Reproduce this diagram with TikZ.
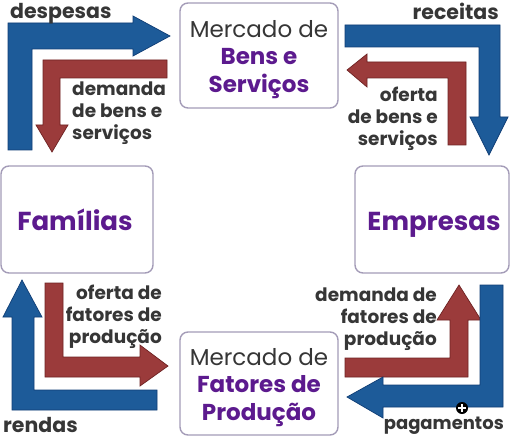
\documentclass[tikz,border=0pt]{standalone}
\usepackage{fontspec}
\setmainfont{Poppins}
\definecolor{bluef}{HTML}{1D5B99}
\definecolor{bluel}{HTML}{0F3D75}
\definecolor{redf}{HTML}{9B3B3B}
\definecolor{redl}{HTML}{6E2222}
\definecolor{purp}{HTML}{5C1A8E}
\definecolor{boxl}{HTML}{A49CB8}
\definecolor{labg}{HTML}{363636}
\begin{document}
\begin{tikzpicture}[x=1pt,y=-1pt,
  mbox/.style={draw=boxl,line width=1.4pt,rounded corners=8pt,fill=white},
  bluearrow/.style={fill=bluef,draw=bluel,line width=0.7pt},
  redarrow/.style={fill=redf,draw=redl,line width=0.7pt},
  lab/.style={inner sep=0pt,text=labg,font=\fontsize{18.5}{22}\selectfont\bfseries},
  corner/.style={inner sep=0pt,text=labg,font=\fontsize{20.5}{24}\selectfont\bfseries},
  boxtxt/.style={inner sep=0pt,align=center,font=\fontsize{23}{28}\selectfont},
  bigtxt/.style={inner sep=0pt,text=purp,font=\fontsize{26}{30}\selectfont\bfseries}]
\useasboundingbox (0,0) rectangle (510,438);
\fill[white] (0,0) rectangle (510,438);
% boxes
\draw[mbox] (180,3) rectangle (338,108);
\draw[mbox] (1,166) rectangle (153,273);
\draw[mbox] (355,166) rectangle (509,273);
\draw[mbox] (180,332) rectangle (338,435);
\node[boxtxt] (bens) at (259,60) {{\color{labg}Mercado de}\\[-1pt]{\color{purp}\bfseries Bens e}\\{\color{purp}\bfseries Serviços}};
\node[boxtxt] (fatores) at (259,388) {{\color{labg}Mercado de}\\[-1pt]{\color{purp}\bfseries Fatores de}\\{\color{purp}\bfseries Produção}};
\node[bigtxt,anchor=base] (familias) at (75,230) {Famílias};
\node[bigtxt,anchor=base] (empresas) at (434,230) {Empresas};
% top-left
\draw[bluearrow] (8,150) -- (8,23) -- (133,23) -- (133,16) -- (170,36) -- (133,56) -- (133,49) -- (32,49) -- (32,150) -- cycle;
\draw[redarrow] (167,60) -- (43,60) -- (43,125) -- (36,125) -- (52,152) -- (68,125) -- (60,125) -- (60,78) -- (167,78) -- cycle;
% top-right
\draw[bluearrow] (345,25) -- (500,25) -- (500,117) -- (508,117) -- (489,155) -- (470,117) -- (479,117) -- (479,47) -- (345,47) -- cycle;
\draw[redarrow] (466,145) -- (466,62) -- (367,62) -- (367,54) -- (347,70) -- (367,87) -- (367,78) -- (448,78) -- (448,145) -- cycle;
% bottom-left
\draw[bluearrow] (157,390) -- (34,390) -- (34,317) -- (42,317) -- (22,280) -- (3,317) -- (12,317) -- (12,410) -- (157,410) -- cycle;
\draw[redarrow] (45,283) -- (63,283) -- (63,357) -- (140,357) -- (140,345) -- (168,366) -- (140,386) -- (140,377) -- (45,377) -- cycle;
% bottom-right
\draw[redarrow] (345,358) -- (450,358) -- (450,320) -- (437,320) -- (459,285) -- (481,320) -- (468,320) -- (468,377) -- (345,377) -- cycle;
\draw[bluearrow] (480,285) -- (503,285) -- (503,407) -- (383,407) -- (383,418) -- (347,397) -- (383,377) -- (383,385) -- (480,385) -- cycle;
% marker
\fill[black] (462,408) circle (6);
\draw[white,line width=1.6pt] (458,408) -- (466,408) (462,404) -- (462,412);
% labels
\node[corner,anchor=base west] (despesas) at (10,19) {despesas};
\node[corner,anchor=base east] (receitas) at (499,20) {receitas};
\node[corner,anchor=base west] (rendas) at (3,432) {rendas};
\node[lab,anchor=base east,font=\fontsize{18}{22}\selectfont\bfseries] (pagamentos) at (504,429) {pagamentos};
\node[lab,anchor=north west,align=left] (dbs) at (72,82) {demanda\\de bens e\\serviços};
\node[lab,anchor=north east,align=right] (obs) at (438,87) {oferta\\de bens e\\serviços};
\node[lab,anchor=north east,align=right] (ofp) at (162,285) {oferta de\\fatores de\\produção};
\node[lab,anchor=north east,align=right] (dfp) at (437,288) {demanda de\\fatores de\\produção};
\end{tikzpicture}
\end{document}
